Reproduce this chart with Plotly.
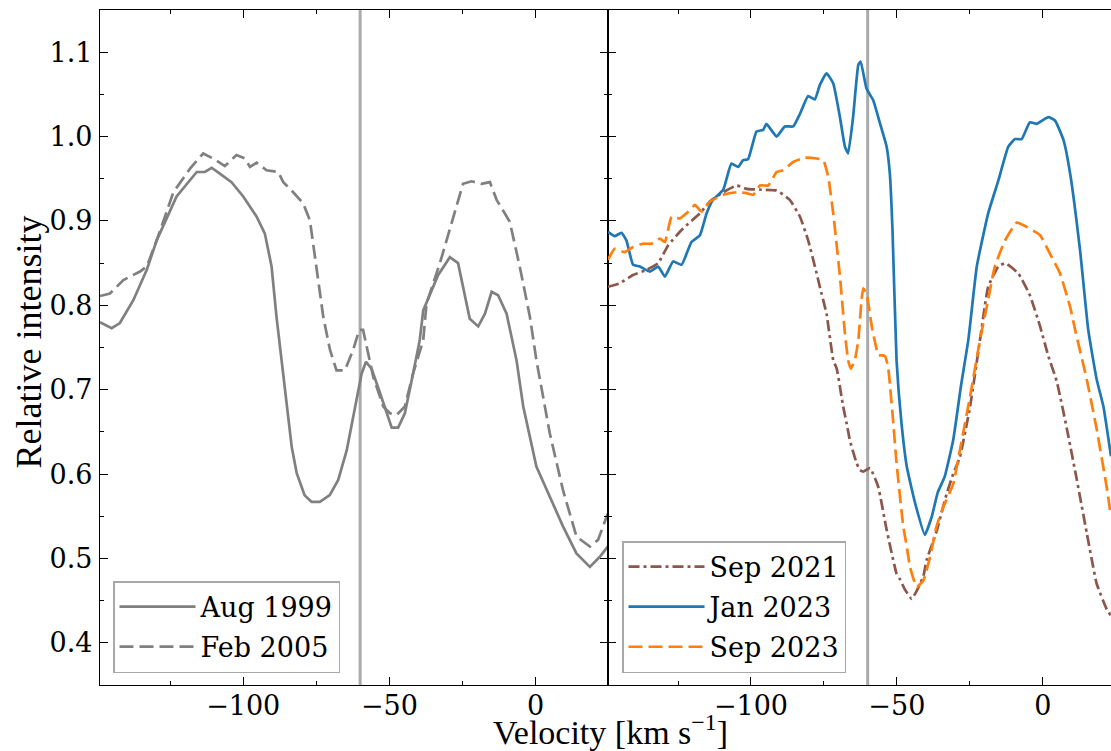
import plotly.graph_objects as go

# ---------------- data ----------------
v_aug1999 = [-149.0, -145.0, -142.2, -137.6, -133.0, -129.6, -122.8, -115.9, -113.1, -110.8,
             -108.0, -104.0, -100.0, -95.4, -92.6, -90.3, -88.6, -86.9, -85.2, -83.4,
             -81.7, -79.0, -76.6, -73.8, -70.4, -67.5, -64.6, -61.2, -59.5, -58.0,
             -56.1, -53.2, -51.0, -49.2, -47.0, -44.7, -41.9, -39.6, -38.4, -33.3,
             -29.3, -26.5, -22.5, -19.6, -17.3, -15.0, -12.8, -9.9, -6.5, -4.2,
             0.3, 4.9, 9.4, 14.0, 18.6, 22.0, 24.7]
i_aug1999 = [0.780, 0.773, 0.779, 0.806, 0.842, 0.877, 0.929, 0.958, 0.958, 0.963,
             0.956, 0.946, 0.929, 0.905, 0.885, 0.846, 0.786, 0.735, 0.680, 0.632,
             0.601, 0.575, 0.567, 0.567, 0.575, 0.593, 0.628, 0.688, 0.719, 0.733,
             0.725, 0.696, 0.672, 0.655, 0.655, 0.672, 0.719, 0.759, 0.794, 0.836,
             0.857, 0.850, 0.784, 0.775, 0.790, 0.816, 0.812, 0.790, 0.735, 0.680,
             0.609, 0.573, 0.538, 0.506, 0.490, 0.502, 0.514]

v_feb2005 = [-149.0, -145.6, -141.0, -135.3, -133.0, -129.6, -123.9, -118.2, -113.7, -110.3,
             -106.3, -102.3, -99.4, -97.7, -95.4, -92.0, -88.0, -86.3, -82.9, -79.5,
             -77.2, -74.9, -72.6, -70.3, -68.1, -65.2, -62.4, -60.3, -59.0, -55.5,
             -52.1, -49.8, -47.5, -44.7, -41.9, -38.4, -37.3, -32.7, -28.2, -24.8,
             -21.9, -18.5, -15.6, -13.3, -8.8, -5.4, -1.9, 0.3, 4.9, 9.4,
             14.0, 18.6, 21.4, 24.7]
i_feb2005 = [0.811, 0.814, 0.830, 0.840, 0.846, 0.877, 0.934, 0.962, 0.980, 0.974,
             0.965, 0.978, 0.974, 0.964, 0.969, 0.960, 0.958, 0.946, 0.934, 0.921,
             0.901, 0.846, 0.786, 0.747, 0.723, 0.723, 0.747, 0.771, 0.771, 0.715,
             0.680, 0.672, 0.670, 0.680, 0.719, 0.759, 0.802, 0.850, 0.905, 0.944,
             0.947, 0.944, 0.946, 0.925, 0.899, 0.846, 0.786, 0.735, 0.648, 0.581,
             0.526, 0.514, 0.522, 0.553]

v_sep2021 = [-149.0, -145.0, -140.4, -135.8, -131.8, -128.4, -123.3, -117.5, -114.1, -109.5,
             -104.9, -101.5, -96.9, -91.2, -86.7, -83.2, -80.4, -77.5, -76.4, -74.1,
             -71.8, -70.6, -68.4, -67.2, -66.1, -63.8, -62.7, -61.5, -59.2, -56.4,
             -53.5, -50.1, -48.9, -47.2, -44.9, -42.7, -40.9, -39.8, -36.4, -32.9,
             -30.7, -28.4, -24.9, -21.5, -18.7, -15.2, -12.9, -8.4, -4.4, -0.9,
             1.9, 4.8, 8.2, 11.7, 15.1, 18.5, 21.9, 23.4]
i_sep2021 = [0.822, 0.826, 0.836, 0.842, 0.850, 0.871, 0.891, 0.909, 0.923, 0.934,
             0.942, 0.938, 0.937, 0.936, 0.925, 0.905, 0.877, 0.838, 0.822, 0.790,
             0.735, 0.725, 0.680, 0.660, 0.640, 0.613, 0.605, 0.603, 0.607, 0.585,
             0.534, 0.482, 0.475, 0.463, 0.452, 0.465, 0.479, 0.498, 0.532, 0.577,
             0.600, 0.620, 0.680, 0.759, 0.822, 0.846, 0.850, 0.838, 0.812, 0.775,
             0.740, 0.710, 0.655, 0.593, 0.530, 0.470, 0.440, 0.432]

v_jan2023 = [-149.0, -146.7, -144.4, -142.7, -140.4, -138.1, -134.7, -131.8, -129.5, -126.7,
             -123.8, -120.4, -117.5, -115.2, -113.0, -109.5, -106.7, -104.4, -102.7, -101.0,
             -98.1, -95.8, -94.7, -91.2, -88.4, -85.5, -83.2, -80.4, -78.1, -76.4,
             -74.1, -71.8, -69.5, -67.8, -66.7, -65.0, -63.2, -62.4, -60.4, -58.1,
             -55.8, -53.5, -52.4, -51.5, -50.1, -48.4, -46.6, -43.7, -40.4, -38.0,
             -36.0, -33.6, -30.7, -28.0, -25.5, -22.6, -18.7, -15.2, -11.8, -9.5,
             -7.2, -4.4, -2.1, 1.9, 4.2, 7.1, 9.4, 12.8, 15.6, 18.5,
             20.8, 23.4]
i_jan2023 = [0.887, 0.882, 0.886, 0.877, 0.848, 0.846, 0.840, 0.846, 0.834, 0.852,
             0.848, 0.875, 0.883, 0.909, 0.925, 0.937, 0.968, 0.964, 0.972, 0.973,
             1.006, 1.008, 1.015, 1.000, 1.012, 1.012, 1.027, 1.048, 1.044, 1.061,
             1.075, 1.063, 1.023, 0.988, 0.980, 1.023, 1.085, 1.089, 1.057, 1.043,
             1.016, 0.988, 0.956, 0.890, 0.735, 0.660, 0.609, 0.565, 0.528, 0.550,
             0.578, 0.597, 0.640, 0.705, 0.759, 0.846, 0.909, 0.948, 0.988, 0.997,
             0.997, 1.017, 1.015, 1.023, 1.019, 0.996, 0.956, 0.865, 0.771, 0.712,
             0.680, 0.621]

v_sep2023 = [-149.0, -146.7, -143.3, -140.4, -137.0, -134.1, -131.2, -129.5, -127.2, -124.4,
             -122.1, -119.2, -116.9, -114.1, -109.5, -104.9, -101.5, -99.2, -96.9, -94.1,
             -91.2, -89.0, -85.5, -81.5, -77.5, -75.2, -73.5, -71.8, -69.5, -67.8,
             -66.7, -65.8, -64.4, -63.2, -62.1, -61.5, -60.4, -58.6, -56.9, -56.4,
             -54.1, -53.0, -52.4, -51.2, -50.1, -47.8, -46.6, -45.5, -43.2, -40.9,
             -38.6, -36.4, -34.1, -30.7, -28.4, -24.9, -21.5, -19.2, -16.4, -12.9,
             -8.9, -5.5, -0.9, 2.5, 5.9, 9.4, 11.1, 15.1, 18.5, 21.9,
             23.4]
i_sep2023 = [0.854, 0.867, 0.863, 0.869, 0.873, 0.873, 0.879, 0.875, 0.905, 0.903,
             0.909, 0.919, 0.911, 0.923, 0.931, 0.934, 0.933, 0.931, 0.942, 0.942,
             0.958, 0.960, 0.970, 0.975, 0.974, 0.972, 0.952, 0.909, 0.834, 0.767,
             0.735, 0.725, 0.735, 0.759, 0.806, 0.820, 0.814, 0.775, 0.747, 0.741,
             0.740, 0.727, 0.707, 0.660, 0.613, 0.538, 0.514, 0.490, 0.466, 0.474,
             0.502, 0.538, 0.561, 0.588, 0.628, 0.692, 0.759, 0.798, 0.846, 0.877,
             0.898, 0.893, 0.883, 0.861, 0.838, 0.798, 0.771, 0.712, 0.653, 0.585,
             0.550]

labels_left = ["Aug 1999", "Feb 2005"]
labels_right = ["Sep 2021", "Jan 2023", "Sep 2023"]
v_marker = -60

# ---------------- styling ----------------
SERIF = "'DejaVu Serif', serif"
LABEL_FONT = "'Liberation Serif', 'Times New Roman', serif"
GREY = "#808080"
BLUE = "#1f77b4"
ORANGE = "#ff7f0e"
BROWN = "#8c564b"
LW = 2.7
SMOOTH = 0.4

fig = go.Figure()

fig.add_trace(go.Scatter(x=v_aug1999, y=i_aug1999, mode="lines", name=labels_left[0],
                         line=dict(color=GREY, width=LW), xaxis="x", yaxis="y",
                         legend="legend", legendgroup="a"))
fig.add_trace(go.Scatter(x=v_feb2005, y=i_feb2005, mode="lines", name=labels_left[1],
                         line=dict(color=GREY, width=LW, dash="14px,6px"), xaxis="x", yaxis="y",
                         legend="legend", legendgroup="b"))
fig.add_trace(go.Scatter(x=v_sep2021, y=i_sep2021, mode="lines", name=labels_right[0],
                         line=dict(color=BROWN, width=LW, dash="11px,4px,3px,4px",
                                   shape="spline", smoothing=SMOOTH),
                         xaxis="x2", yaxis="y2", legend="legend2", legendgroup="c"))
fig.add_trace(go.Scatter(x=v_jan2023, y=i_jan2023, mode="lines", name=labels_right[1],
                         line=dict(color=BLUE, width=LW, shape="spline", smoothing=SMOOTH),
                         xaxis="x2", yaxis="y2", legend="legend2", legendgroup="d"))
fig.add_trace(go.Scatter(x=v_sep2023, y=i_sep2023, mode="lines", name=labels_right[2],
                         line=dict(color=ORANGE, width=LW, dash="14px,6px",
                                   shape="spline", smoothing=SMOOTH),
                         xaxis="x2", yaxis="y2", legend="legend2", legendgroup="e"))

for xr, yr in (("x", "y"), ("x2", "y2")):
    fig.add_shape(type="line", xref=xr, yref=yr + " domain", x0=v_marker, x1=v_marker,
                  y0=0, y1=1, line=dict(color="#aaaaaa", width=3), layer="below")

split = 508 / 1011

tickfont = dict(family=SERIF, size=27, color="black")
xcommon = dict(ticks="inside", ticklen=8, tickwidth=1.3, tickcolor="black",
               showline=True, linecolor="black", linewidth=1.3, mirror="ticks",
               showgrid=False, zeroline=False, dtick=50, tick0=0, tickfont=tickfont,
               ticklabelstandoff=-4,
               minor=dict(ticks="inside", ticklen=4, tickwidth=1.1, tickcolor="black",
                          dtick=25, tick0=0, showgrid=False))
ycommon = dict(ticks="inside", ticklen=8, tickwidth=1.3, tickcolor="black",
               showline=True, linecolor="black", linewidth=1.3,
               showgrid=False, zeroline=False, dtick=0.1, tick0=0.4, tickformat=".1f",
               range=[0.35, 1.15], tickfont=tickfont,
               minor=dict(ticks="inside", ticklen=4, tickwidth=1.1, tickcolor="black",
                          dtick=0.05, tick0=0.4, showgrid=False))

legend_common = dict(xanchor="left", yanchor="bottom", bordercolor="#a8a8a8", borderwidth=1.5,
                     bgcolor="white", font=dict(family=SERIF, size=27, color="black"),
                     tracegroupgap=2, itemwidth=76)

fig.update_layout(
    width=1111, height=751,
    margin=dict(l=100, r=0, t=10, b=66),
    paper_bgcolor="white", plot_bgcolor="white",
    font=dict(family=SERIF, color="black"),
    xaxis=dict(domain=[0, split], range=[-149, 24.8], anchor="y", **xcommon),
    xaxis2=dict(domain=[split, 1], range=[-149, 23.4], anchor="y2", **xcommon),
    yaxis=dict(anchor="x", mirror="ticks", ticklabelstandoff=1, **ycommon),
    yaxis2=dict(anchor="x2", matches="y", mirror=False, showticklabels=False, **ycommon),
    yaxis3=dict(anchor="x2", overlaying="y2", side="right", range=[0.35, 1.15],
                ticks="inside", ticklen=3, tickwidth=1.3, tickcolor="black",
                dtick=0.1, tick0=0.4, showticklabels=False, showline=False,
                showgrid=False, zeroline=False),
    legend=dict(x=(113 - 100) / 1011, y=(685 - 673) / 675, **legend_common),
    legend2=dict(x=(622 - 100) / 1011, y=(685 - 673) / 675, **legend_common),
    showlegend=True,
)

fig.add_annotation(text="Relative intensity", xref="paper", yref="paper", x=0, y=0.5,
                   xshift=-72, yshift=5, xanchor="center", yanchor="middle", textangle=-90,
                   showarrow=False, font=dict(family=LABEL_FONT, size=36, color="black"))
fig.add_annotation(text="Velocity [km s<sup>\u22121</sup>]", xref="paper", yref="paper",
                   x=(610 - 100) / 1011, y=0, yshift=-45, xanchor="center", yanchor="middle",
                   showarrow=False, font=dict(family=LABEL_FONT, size=34, color="black"))

fig.write_html("out.html")
